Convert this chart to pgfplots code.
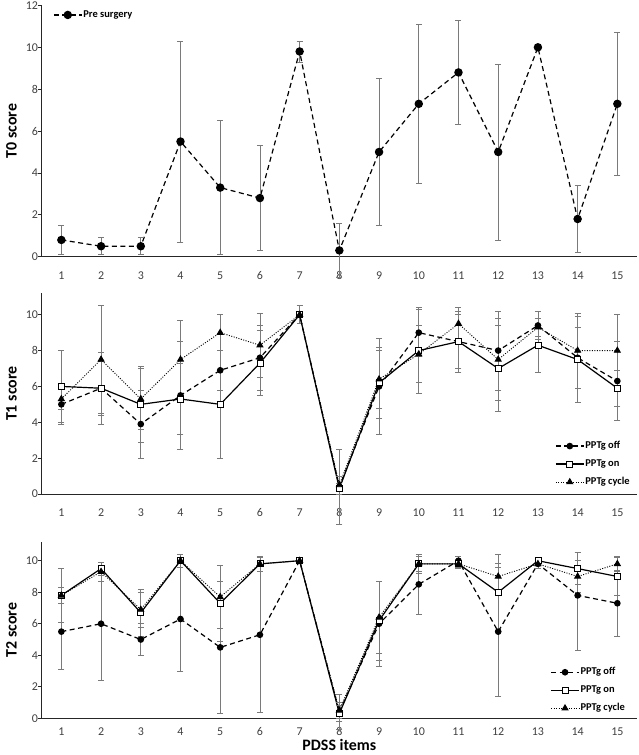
\documentclass[border=0pt]{standalone}
\usepackage{pgfplots}
\pgfplotsset{compat=1.18}
\usepackage{pgfplotstable}
\usepackage{fontspec}
\setmainfont{Carlito}

\pgfplotstableread{
x y e
1 0.8 0.7
2 0.5 0.4
3 0.5 0.4
4 5.5 4.8
5 3.3 3.2
6 2.8 2.5
7 9.8 0.5
8 0.3 1.3
9 5.0 3.5
10 7.3 3.8
11 8.8 2.5
12 5.0 4.2
13 10.0 0
14 1.8 1.6
15 7.3 3.4
}\tzero

\pgfplotstableread{
x off eoff on eon cyc ecyc
1 5.0 1.1 6.0 2.0 5.3 0.6
2 5.9 2.0 5.9 1.5 7.5 3.0
3 3.9 1.9 5.0 2.1 5.3 1.7
4 5.5 3.0 5.3 2.0 7.5 2.2
5 6.9 1.1 5.0 3.0 9.0 1.0
6 7.6 1.8 7.3 1.8 8.3 1.8
7 10.0 0.5 10.0 0 10.0 0
8 0.4 2.1 0.3 0.3 0.5 0.5
9 6.0 2.7 6.2 2.0 6.4 1.6
10 9.0 1.3 8.0 2.4 7.8 1.6
11 8.5 1.7 8.5 1.5 9.5 0.9
12 8.0 2.2 7.0 2.4 7.5 2.3
13 9.4 0.8 8.3 1.5 9.3 0.5
14 7.6 1.7 7.5 2.4 8.0 2.1
15 6.3 2.2 5.9 1.0 8.0 2.0
}\tone

\pgfplotstableread{
x off eoffp eoffm on eon cyc ecyc
1 5.5 2.4 2.4 7.8 1.7 7.8 0.5
2 6.0 3.6 3.6 9.5 0.4 9.3 0.6
3 5.0 1.0 1.0 6.7 1.5 6.9 1.1
4 6.3 3.3 3.3 10.0 0 10.0 0.4
5 4.5 4.2 4.2 7.3 2.4 7.7 2.0
6 5.3 4.9 4.9 9.8 0.5 9.8 0.5
7 10.0 0 0 10.0 0 10.0 0
8 0.4 1.1 1.1 0.3 0.5 0.5 0.5
9 6.0 2.7 2.7 6.2 2.5 6.4 2.3
10 8.5 1.9 1.9 9.8 0.5 9.8 0.6
11 10.0 0.3 0.3 9.8 0.2 9.8 0.3
12 5.5 4.1 4.1 8.0 2.4 9.0 0.8
13 9.8 0.3 0.3 10.0 0 9.8 0.3
14 7.8 2.7 3.5 9.5 1.0 9.0 1.0
15 7.3 2.1 2.1 9.0 1.2 9.8 0.5
}\ttwo

\definecolor{ebgray}{HTML}{7A7A7A}
\definecolor{ticktext}{HTML}{404040}

\pgfplotsset{
  panel/.style={
    scale only axis, width=595.7bp,
    xmin=0.5, xmax=15.5, ymin=0,
    axis x line*=bottom, axis y line*=left,
    axis line style={line width=0.9bp, black!85},
    xtick={1,...,15}, ytick distance=2,
    x tick style={draw=none},
    y tick style={line width=0.8bp, black!85},
    tick align=outside, major tick length=4bp,
    /pgf/number format/assume math mode=true,
    tick label style={font=\fontsize{12}{14}\selectfont, text=ticktext},
    yticklabel style={xshift=4bp},
    ylabel style={font=\fontsize{16}{18}\selectfont\bfseries, anchor=center},
    clip=false,
    legend cell align=left,
    legend style={draw=none, fill=none, inner sep=0pt, font=\fontsize{10.5}{12}\selectfont\bfseries,
      nodes={inner sep=1bp, text height=7.5bp, text depth=2bp}, row sep=6.5bp},
  },
  ebars/.style={error bars/.cd, y dir=both, y explicit,
      error bar style={solid, line width=0.8bp, ebgray},
      error mark options={solid, line width=0.8bp, ebgray, mark size=3bp, rotate=90}},
  limg/.style={legend image code/.code={
      \draw[mark repeat=2,mark phase=2,##1] plot coordinates {(0bp,0bp) (14bp,0bp) (28bp,0bp)};}},
  offst/.style={black, line width=1.2bp, dash pattern=on 5bp off 3.5bp, mark=*, mark size=2.7bp, mark options={solid, fill=black}, limg},
  onst/.style={black, line width=1.2bp, solid, mark=square*, mark size=3bp, mark options={solid, fill=white, line width=0.8bp}, limg},
  cycst/.style={black, line width=0.9bp, dash pattern=on 1bp off 1.5bp, mark=triangle*, mark size=3.4bp, mark options={solid, fill=black}, limg},
}

\begin{document}
\begin{tikzpicture}
\useasboundingbox (0bp,0bp) rectangle (639bp,-755bp);

% Panel T0
\begin{axis}[panel, at={(41.5bp,-256.7bp)}, anchor=south west,
  height=251.3bp, ymax=12,
  ylabel={T0 score},
  ylabel style={at={(axis description cs:-0.0504,0.5)}},
  xticklabel style={yshift=-7.5bp},
  legend style={at={(axis description cs:0.0193,0.962)}, anchor=west}]
\addplot[offst, mark size=3.6bp, ebars] table[x=x, y=y, y error=e] {\tzero};
\addlegendentry{Pre surgery}
\end{axis}

% Panel T1
\begin{axis}[panel, at={(41.5bp,-494bp)}, anchor=south west,
  height=200.8bp, ymax=11.2, ytick={0,2,...,10},
  ylabel={T1 score},
  ylabel style={at={(axis description cs:-0.0504,0.5)}},
  xticklabel style={yshift=-7bp},
  legend style={at={(axis description cs:0.862,0.149)}, anchor=west}]
\addplot[offst, ebars] table[x=x, y=off, y error=eoff] {\tone};
\addlegendentry{PPTg off}
\addplot[onst, ebars] table[x=x, y=on, y error=eon] {\tone};
\addlegendentry{PPTg on}
\addplot[cycst, ebars] table[x=x, y=cyc, y error=ecyc] {\tone};
\addlegendentry{PPTg cycle}
\end{axis}

% Panel T2
\begin{axis}[panel, at={(41.5bp,-718.3bp)}, anchor=south west,
  height=176.5bp, ymax=11.2, ytick={0,2,...,10},
  ylabel={T2 score},
  ylabel style={at={(axis description cs:-0.0504,0.5)}},
  xlabel={PDSS items},
  xlabel style={font=\fontsize{16}{18}\selectfont\bfseries, at={(axis description cs:0.5,-0.153)}, anchor=center},
  xticklabel style={yshift=-2bp},
  legend style={at={(axis description cs:0.854,0.159)}, anchor=west}]
\addplot[offst, ebars] table[x=x, y=off, y error plus=eoffp, y error minus=eoffm] {\ttwo};
\addlegendentry{PPTg off}
\addplot[onst, ebars] table[x=x, y=on, y error=eon] {\ttwo};
\addlegendentry{PPTg on}
\addplot[cycst, ebars] table[x=x, y=cyc, y error=ecyc] {\ttwo};
\addlegendentry{PPTg cycle}
\end{axis}
\end{tikzpicture}
\end{document}
